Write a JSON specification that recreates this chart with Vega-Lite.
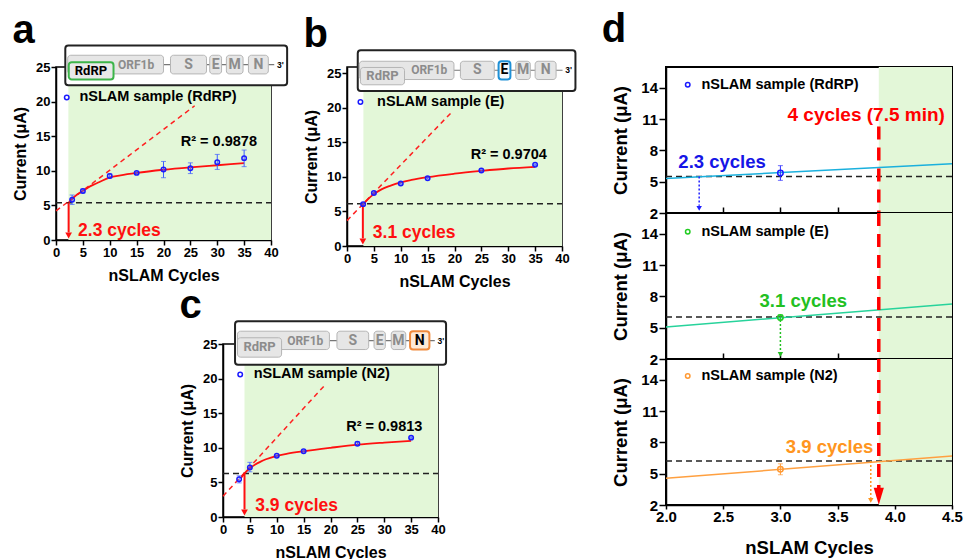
{
"$schema": "https://vega.github.io/schema/vega-lite/v6.json",
"autosize": {"type": "pad"},
"padding": {"left": 11, "top": 9, "right": 0, "bottom": 0},
"background": "white",
"datasets": {
"pts": [
{"p":"a","x":3,"y":5.82,"lo":5.14,"hi":6.5},{"p":"a","x":5,"y":7.07,"lo":6.8,"hi":7.35},{"p":"a","x":10,"y":9.25,"lo":8.95,"hi":9.55},{"p":"a","x":15,"y":9.7,"lo":9.55,"hi":9.85},{"p":"a","x":20,"y":10.18,"lo":9.0,"hi":11.35},{"p":"a","x":25,"y":10.38,"lo":9.6,"hi":11.15},{"p":"a","x":30,"y":11.25,"lo":10.2,"hi":12.37},{"p":"a","x":35,"y":11.83,"lo":10.6,"hi":13.0},
{"p":"b","x":3,"y":6.05,"lo":5.9,"hi":6.2},{"p":"b","x":5,"y":7.65,"lo":7.5,"hi":7.8},{"p":"b","x":10,"y":9.03,"lo":8.93,"hi":9.13},{"p":"b","x":15,"y":9.8,"lo":9.7,"hi":9.9},{"p":"b","x":25,"y":10.9,"lo":10.78,"hi":11.02},{"p":"b","x":35,"y":11.74,"lo":11.64,"hi":11.84},
{"p":"c","x":3,"y":5.47,"lo":4.93,"hi":5.95},{"p":"c","x":5,"y":7.17,"lo":6.53,"hi":7.9},{"p":"c","x":10,"y":8.86,"lo":8.76,"hi":8.96},{"p":"c","x":15,"y":9.49,"lo":9.39,"hi":9.59},{"p":"c","x":25,"y":10.6,"lo":10.35,"hi":10.85},{"p":"c","x":35,"y":11.47,"lo":11.37,"hi":11.57}
],
"fit": [
{"p":"a","x":2.4,"y":5.45},{"p":"a","x":3,"y":5.95},{"p":"a","x":4,"y":6.6},{"p":"a","x":5,"y":7.1},{"p":"a","x":6,"y":7.6},{"p":"a","x":7,"y":8.0},{"p":"a","x":8,"y":8.35},{"p":"a","x":10,"y":9.05},{"p":"a","x":12,"y":9.35},{"p":"a","x":15,"y":9.7},{"p":"a","x":20,"y":10.15},{"p":"a","x":25,"y":10.5},{"p":"a","x":30,"y":10.8},{"p":"a","x":35,"y":11.1},
{"p":"b","x":2.9,"y":5.9},{"p":"b","x":3,"y":6.0},{"p":"b","x":4,"y":6.85},{"p":"b","x":5,"y":7.5},{"p":"b","x":6,"y":8.0},{"p":"b","x":7,"y":8.4},{"p":"b","x":8,"y":8.7},{"p":"b","x":10,"y":9.2},{"p":"b","x":12,"y":9.55},{"p":"b","x":15,"y":9.95},{"p":"b","x":20,"y":10.45},{"p":"b","x":25,"y":10.85},{"p":"b","x":30,"y":11.2},{"p":"b","x":35,"y":11.45},
{"p":"c","x":3.3,"y":5.6},{"p":"c","x":4,"y":6.3},{"p":"c","x":5,"y":7.05},{"p":"c","x":6,"y":7.6},{"p":"c","x":7,"y":8.0},{"p":"c","x":8,"y":8.35},{"p":"c","x":10,"y":8.85},{"p":"c","x":12,"y":9.15},{"p":"c","x":15,"y":9.5},{"p":"c","x":20,"y":10.0},{"p":"c","x":25,"y":10.45},{"p":"c","x":30,"y":10.75},{"p":"c","x":35,"y":11.0}
],
"tangent": [{"p":"a","x":0,"y":4.2},{"p":"a","x":25.8,"y":19.4},{"p":"b","x":0,"y":3.67},{"p":"b","x":19.3,"y":19.2},{"p":"c","x":0,"y":3.0},{"p":"c","x":19,"y":19.1}],
"thresh": [{"p":"a","x":0,"x2":40,"y":5.39},{"p":"b","x":0,"x2":40,"y":6.09},{"p":"c","x":0,"x2":40,"y":6.3}],
"cut": [{"p":"a","x":2.35,"y":5.39,"y2":1.1},{"p":"b","x":2.95,"y":6.09,"y2":1.1},{"p":"c","x":4.0,"y":6.3,"y2":1.1}],
"cuthead": [{"p":"a","x":2.35,"y":0.65},{"p":"b","x":2.95,"y":0.65},{"p":"c","x":4.0,"y":0.65}],
"green": [{"p":"a","x":2.3,"x2":40,"y":0,"y2":25},{"p":"b","x":3.05,"x2":40,"y":0,"y2":25},{"p":"c","x":4.0,"x2":40,"y":0,"y2":25}],
"lab": [
{"p":"a","k":"cyc","x":4.1,"y":1.35,"t":"2.3 cycles"},{"p":"a","k":"r2","x":30.3,"y":14.2,"t":"R² = 0.9878"},
{"p":"b","k":"cyc","x":4.8,"y":1.83,"t":"3.1 cycles"},{"p":"b","k":"r2","x":30.1,"y":13.1,"t":"R² = 0.9704"},
{"p":"c","k":"cyc","x":6.0,"y":1.6,"t":"3.9 cycles"},{"p":"c","k":"r2","x":30.0,"y":13.06,"t":"R² = 0.9813"}
],
"leg": [{"p":"a","x":2.0,"tx":4.35,"y":20.6,"t":"nSLAM sample (RdRP)"},{"p":"b","x":2.5,"tx":5.6,"y":20.8,"t":"nSLAM sample (E)"},{"p":"c","x":3.2,"tx":5.7,"y":20.6,"t":"nSLAM sample (N2)"}],
"gbox": [{"p":"a","x":1.73,"x2":43.0,"y":22.36,"y2":28.1},{"p":"b","x":2.0,"x2":42.5,"y":22.4,"y2":28.3},{"p":"c","x":2.24,"x2":41.5,"y":22.0,"y2":28.3}],
"gline": [{"p":"a","x":20,"x2":40.6,"y":25.35},{"p":"b","x":19.9,"x2":40.1,"y":25.4},{"p":"c","x":19.8,"x2":39.4,"y":25.5}],
"g3": [{"p":"a","x":41.1,"y":25.35,"t":"3'"},{"p":"b","x":40.6,"y":25.4,"t":"3'"},{"p":"c","x":39.9,"y":25.5,"t":"3'"}],
"genes": [
{"p":"a","g":"ORF1b","x":2.18,"x2":20.0,"y":24.0,"y2":26.7,"cx":14.9,"cy":25.35,"hl":"n"},
{"p":"a","g":"RdRP","x":2.37,"x2":10.7,"y":23.2,"y2":25.7,"cx":6.5,"cy":24.45,"hl":"y"},
{"p":"a","g":"S","x":21.3,"x2":28.0,"y":24.0,"y2":26.7,"cx":24.65,"cy":25.35,"hl":"n"},
{"p":"a","g":"E","x":28.6,"x2":30.8,"y":24.0,"y2":26.7,"cx":29.7,"cy":25.35,"hl":"n"},
{"p":"a","g":"M","x":31.7,"x2":34.8,"y":24.0,"y2":26.7,"cx":33.25,"cy":25.35,"hl":"n"},
{"p":"a","g":"N","x":35.8,"x2":39.5,"y":24.0,"y2":26.7,"cx":37.65,"cy":25.35,"hl":"n"},
{"p":"b","g":"ORF1b","x":2.3,"x2":19.9,"y":24.06,"y2":26.7,"cx":15.3,"cy":25.4,"hl":"n"},
{"p":"b","g":"RdRP","x":2.5,"x2":10.7,"y":23.3,"y2":25.8,"cx":6.6,"cy":24.55,"hl":"n"},
{"p":"b","g":"S","x":21.1,"x2":27.4,"y":24.06,"y2":26.7,"cx":24.25,"cy":25.4,"hl":"n"},
{"p":"b","g":"E","x":28.2,"x2":30.4,"y":24.06,"y2":26.7,"cx":29.3,"cy":25.4,"hl":"y"},
{"p":"b","g":"M","x":31.4,"x2":34.1,"y":24.06,"y2":26.7,"cx":32.75,"cy":25.4,"hl":"n"},
{"p":"b","g":"N","x":35.0,"x2":38.9,"y":24.06,"y2":26.7,"cx":36.95,"cy":25.4,"hl":"n"},
{"p":"c","g":"ORF1b","x":2.7,"x2":19.8,"y":24.2,"y2":26.85,"cx":15.3,"cy":25.5,"hl":"n"},
{"p":"c","g":"RdRP","x":2.7,"x2":10.9,"y":23.1,"y2":25.9,"cx":6.8,"cy":24.5,"hl":"n"},
{"p":"c","g":"S","x":21.2,"x2":27.1,"y":24.2,"y2":26.85,"cx":24.15,"cy":25.5,"hl":"n"},
{"p":"c","g":"E","x":28.1,"x2":30.2,"y":24.2,"y2":26.85,"cx":29.15,"cy":25.5,"hl":"n"},
{"p":"c","g":"M","x":31.3,"x2":34.0,"y":24.2,"y2":26.85,"cx":32.65,"cy":25.5,"hl":"n"},
{"p":"c","g":"N","x":34.8,"x2":38.4,"y":24.2,"y2":26.85,"cx":36.6,"cy":25.5,"hl":"y"}
],
"dline": [{"s":"RdRP","x":2,"y":5.3},{"s":"RdRP","x":4.5,"y":6.73},{"s":"E","x":2,"y":5.07},{"s":"E","x":4.5,"y":7.27},{"s":"N2","x":2,"y":4.56},{"s":"N2","x":4.5,"y":6.69}],
"dpts": [{"s":"RdRP","x":3,"y":5.83,"lo":5.13,"hi":6.54},{"s":"E","x":3,"y":5.98,"lo":5.75,"hi":6.22},{"s":"N2","x":3,"y":5.42,"lo":4.9,"hi":5.95}],
"dth": [{"s":"RdRP","x":2,"x2":4.5,"y":5.5},{"s":"E","x":2,"x2":4.5,"y":6.02},{"s":"N2","x":2,"x2":4.5,"y":6.21}],
"darr": [{"s":"RdRP","x":2.29,"y":5.5,"y2":2.7},{"s":"E","x":3.0,"y":5.75,"y2":2.7},{"s":"N2","x":3.79,"y":6.21,"y2":2.7}],
"dhead": [{"s":"RdRP","x":2.29,"y":2.45},{"s":"E","x":3.0,"y":2.45},{"s":"N2","x":3.79,"y":2.45}],
"dred": [{"s":"RdRP","x":3.86,"y":10.3,"y2":2},{"s":"E","x":3.86,"y":16,"y2":2},{"s":"N2","x":3.86,"y":16,"y2":3.6}],
"dredhead": [{"s":"N2","x":3.86,"y":2.83}],
"dgreen": [{"s":"RdRP","x":3.86,"x2":4.5,"y":2,"y2":16},{"s":"E","x":3.86,"x2":4.5,"y":2,"y2":16},{"s":"N2","x":3.86,"x2":4.5,"y":2,"y2":16}],
"dlab": [{"s":"RdRP","k":"cyc","x":2.49,"y":6.9,"t":"2.3 cycles"},{"s":"RdRP","k":"big","x":3.75,"y":11.36,"t":"4 cycles (7.5 min)"},{"s":"E","k":"cyc","x":3.2,"y":7.58,"t":"3.1 cycles"},{"s":"N2","k":"cyc","x":3.43,"y":7.6,"t":"3.9 cycles"}],
"dleg": [{"s":"RdRP","x":2.19,"tx":2.31,"y":14.3,"t":"nSLAM sample (RdRP)"},{"s":"E","x":2.19,"tx":2.31,"y":14.2,"t":"nSLAM sample (E)"},{"s":"N2","x":2.19,"tx":2.31,"y":14.36,"t":"nSLAM sample (N2)"}]
},
"config": {
"font": "Liberation Sans",
"view": {"stroke": "black", "strokeWidth": 1.5},
"axis": {"grid": false, "domainColor": "black", "domainWidth": 1.5, "tickColor": "black", "tickWidth": 1.5, "labelColor": "black", "titleColor": "black", "labelFont": "Liberation Sans", "titleFont": "Liberation Sans", "labelFontWeight": "bold", "titleFontWeight": "bold", "zindex": 1, "labelFlush": false, "labelOverlap": false},
"title": {"font": "Liberation Sans", "fontWeight": "bold", "fontSize": 40, "anchor": "start", "frame": "bounds", "color": "black"},
"text": {"font": "Liberation Sans", "fontWeight": "bold"}
},
"hconcat": [
{"vconcat": [
 {"hconcat": [
  {"width": 215, "height": 173, "title": {"text": "a", "offset": -6},
   "encoding": {
    "x": {"field": "x", "type": "quantitative", "scale": {"domain": [0, 40], "nice": false}, "axis": {"title": "nSLAM Cycles", "values": [0,5,10,15,20,25,30,35,40], "labelFontSize": 13, "titleFontSize": 16, "tickSize": 5, "labelPadding": 1, "titlePadding": 8}},
    "y": {"field": "y", "type": "quantitative", "scale": {"domain": [0, 25], "nice": false}, "axis": {"title": "Current (μA)", "values": [0,5,10,15,20,25], "labelFontSize": 13, "titleFontSize": 16, "tickSize": 5, "labelPadding": 1, "titlePadding": 7}}
   },
   "layer": [
    {"data": {"name": "green"}, "transform": [{"filter": "datum.p=='a'"}], "mark": {"type": "rect", "color": "#e3f7d8"}, "encoding": {"x2": {"field": "x2"}, "y2": {"field": "y2"}}},
    {"data": {"name": "thresh"}, "transform": [{"filter": "datum.p=='a'"}], "mark": {"type": "rule", "color": "#222222", "strokeWidth": 1.5, "strokeDash": [6,4]}, "encoding": {"x2": {"field": "x2"}}},
    {"data": {"name": "tangent"}, "transform": [{"filter": "datum.p=='a'"}], "mark": {"type": "line", "color": "#ff2020", "strokeWidth": 1.5, "strokeDash": [5,4]}},
    {"data": {"name": "fit"}, "transform": [{"filter": "datum.p=='a'"}], "mark": {"type": "line", "color": "#ff1010", "strokeWidth": 1.8, "interpolate": "monotone"}},
    {"data": {"name": "cut"}, "transform": [{"filter": "datum.p=='a'"}], "mark": {"type": "rule", "color": "#ff1010", "strokeWidth": 2}, "encoding": {"y2": {"field": "y2"}}},
    {"data": {"name": "cuthead"}, "transform": [{"filter": "datum.p=='a'"}], "mark": {"type": "point", "shape": "triangle-down", "filled": true, "size": 45, "color": "#ff1010", "opacity": 1}},
    {"data": {"name": "pts"}, "transform": [{"filter": "datum.p=='a'"}], "mark": {"type": "errorbar", "ticks": true, "color": "#3d5cff"}, "encoding": {"y": {"field": "lo", "type": "quantitative"}, "y2": {"field": "hi"}}},
    {"data": {"name": "pts"}, "transform": [{"filter": "datum.p=='a'"}], "mark": {"type": "point", "filled": false, "size": 20, "strokeWidth": 1.5, "color": "#1a1aff", "opacity": 1}},
    {"data": {"name": "lab"}, "transform": [{"filter": "datum.p=='a' && datum.k=='cyc'"}], "mark": {"type": "text", "align": "left", "baseline": "middle", "fontSize": 17.5, "color": "#ff1010"}, "encoding": {"text": {"field": "t"}}},
    {"data": {"name": "lab"}, "transform": [{"filter": "datum.p=='a' && datum.k=='r2'"}], "mark": {"type": "text", "align": "center", "baseline": "middle", "fontSize": 14.5, "color": "black"}, "encoding": {"text": {"field": "t"}}},
    {"data": {"name": "leg"}, "transform": [{"filter": "datum.p=='a'"}], "mark": {"type": "point", "filled": false, "size": 20, "strokeWidth": 1.5, "color": "#1a1aff", "opacity": 1}},
    {"data": {"name": "leg"}, "transform": [{"filter": "datum.p=='a'"}], "mark": {"type": "text", "align": "left", "baseline": "middle", "fontSize": 14.5, "color": "black"}, "encoding": {"x": {"field": "tx", "type": "quantitative"}, "text": {"field": "t"}}},
    {"data": {"name": "gbox"}, "transform": [{"filter": "datum.p=='a'"}], "mark": {"type": "rect", "fill": "white", "stroke": "#222222", "strokeWidth": 2, "cornerRadius": 3}, "encoding": {"x2": {"field": "x2"}, "y2": {"field": "y2"}}},
    {"data": {"name": "gline"}, "transform": [{"filter": "datum.p=='a'"}], "mark": {"type": "rule", "color": "#777777", "strokeWidth": 1.2}, "encoding": {"x2": {"field": "x2"}}},
    {"data": {"name": "genes"}, "transform": [{"filter": "datum.p=='a'"}], "mark": {"type": "rect", "cornerRadius": 3}, "encoding": {"x2": {"field": "x2"}, "y2": {"field": "y2"}, "fill": {"condition": {"test": "datum.hl=='y'", "value": "#e9e9e9"}, "value": "#e6e6e6"}, "stroke": {"condition": {"test": "datum.hl=='y'", "value": "#3db54a"}, "value": "#b5b5b5"}, "strokeWidth": {"condition": {"test": "datum.hl=='y'", "value": 2}, "value": 1}}},
    {"data": {"name": "genes"}, "transform": [{"filter": "datum.p=='a' && datum.g=='ORF1b'"}], "mark": {"type": "text", "font": "Roboto", "fontWeight": "bold", "fontSize": 12, "align": "center", "baseline": "middle"}, "encoding": {"x": {"field": "cx", "type": "quantitative"}, "y": {"field": "cy", "type": "quantitative"}, "text": {"field": "g"}, "color": {"condition": {"test": "datum.hl=='y'", "value": "black"}, "value": "#8c8c8c"}}},
    {"data": {"name": "genes"}, "transform": [{"filter": "datum.p=='a' && datum.g=='RdRP'"}], "mark": {"type": "text", "font": "Roboto", "fontWeight": "bold", "fontSize": 13, "align": "center", "baseline": "middle"}, "encoding": {"x": {"field": "cx", "type": "quantitative"}, "y": {"field": "cy", "type": "quantitative"}, "text": {"field": "g"}, "color": {"condition": {"test": "datum.hl=='y'", "value": "black"}, "value": "#8c8c8c"}}},
    {"data": {"name": "genes"}, "transform": [{"filter": "datum.p=='a' && datum.g!='RdRP' && datum.g!='ORF1b'"}], "mark": {"type": "text", "font": "Roboto", "fontWeight": "bold", "fontSize": 14, "align": "center", "baseline": "middle"}, "encoding": {"x": {"field": "cx", "type": "quantitative"}, "y": {"field": "cy", "type": "quantitative"}, "text": {"field": "g"}, "color": {"condition": {"test": "datum.hl=='y'", "value": "black"}, "value": "#8c8c8c"}}},
    {"data": {"name": "g3"}, "transform": [{"filter": "datum.p=='a'"}], "mark": {"type": "text", "fontSize": 8.5, "align": "left", "baseline": "middle", "color": "black"}, "encoding": {"text": {"field": "t"}}}
   ]
  },
  {"width": 215, "height": 179, "title": {"text": "b", "offset": -6},
   "encoding": {
    "x": {"field": "x", "type": "quantitative", "scale": {"domain": [0, 40], "nice": false}, "axis": {"title": "nSLAM Cycles", "values": [0,5,10,15,20,25,30,35,40], "labelFontSize": 13, "titleFontSize": 16, "tickSize": 5, "labelPadding": 1, "titlePadding": 8}},
    "y": {"field": "y", "type": "quantitative", "scale": {"domain": [0, 25.87], "nice": false}, "axis": {"title": "Current (μA)", "values": [0,5,10,15,20,25], "labelFontSize": 13, "titleFontSize": 16, "tickSize": 5, "labelPadding": 1, "titlePadding": 7}}
   },
   "layer": [
    {"data": {"name": "green"}, "transform": [{"filter": "datum.p=='b'"}], "mark": {"type": "rect", "color": "#e3f7d8"}, "encoding": {"x2": {"field": "x2"}, "y2": {"field": "y2"}}},
    {"data": {"name": "thresh"}, "transform": [{"filter": "datum.p=='b'"}], "mark": {"type": "rule", "color": "#222222", "strokeWidth": 1.5, "strokeDash": [6,4]}, "encoding": {"x2": {"field": "x2"}}},
    {"data": {"name": "tangent"}, "transform": [{"filter": "datum.p=='b'"}], "mark": {"type": "line", "color": "#ff2020", "strokeWidth": 1.5, "strokeDash": [5,4]}},
    {"data": {"name": "fit"}, "transform": [{"filter": "datum.p=='b'"}], "mark": {"type": "line", "color": "#ff1010", "strokeWidth": 1.8, "interpolate": "monotone"}},
    {"data": {"name": "cut"}, "transform": [{"filter": "datum.p=='b'"}], "mark": {"type": "rule", "color": "#ff1010", "strokeWidth": 2}, "encoding": {"y2": {"field": "y2"}}},
    {"data": {"name": "cuthead"}, "transform": [{"filter": "datum.p=='b'"}], "mark": {"type": "point", "shape": "triangle-down", "filled": true, "size": 45, "color": "#ff1010", "opacity": 1}},
    {"data": {"name": "pts"}, "transform": [{"filter": "datum.p=='b'"}], "mark": {"type": "errorbar", "ticks": true, "color": "#3d5cff"}, "encoding": {"y": {"field": "lo", "type": "quantitative"}, "y2": {"field": "hi"}}},
    {"data": {"name": "pts"}, "transform": [{"filter": "datum.p=='b'"}], "mark": {"type": "point", "filled": false, "size": 20, "strokeWidth": 1.5, "color": "#1a1aff", "opacity": 1}},
    {"data": {"name": "lab"}, "transform": [{"filter": "datum.p=='b' && datum.k=='cyc'"}], "mark": {"type": "text", "align": "left", "baseline": "middle", "fontSize": 17.5, "color": "#ff1010"}, "encoding": {"text": {"field": "t"}}},
    {"data": {"name": "lab"}, "transform": [{"filter": "datum.p=='b' && datum.k=='r2'"}], "mark": {"type": "text", "align": "center", "baseline": "middle", "fontSize": 14.5, "color": "black"}, "encoding": {"text": {"field": "t"}}},
    {"data": {"name": "leg"}, "transform": [{"filter": "datum.p=='b'"}], "mark": {"type": "point", "filled": false, "size": 20, "strokeWidth": 1.5, "color": "#1a1aff", "opacity": 1}},
    {"data": {"name": "leg"}, "transform": [{"filter": "datum.p=='b'"}], "mark": {"type": "text", "align": "left", "baseline": "middle", "fontSize": 14.5, "color": "black"}, "encoding": {"x": {"field": "tx", "type": "quantitative"}, "text": {"field": "t"}}},
    {"data": {"name": "gbox"}, "transform": [{"filter": "datum.p=='b'"}], "mark": {"type": "rect", "fill": "white", "stroke": "#222222", "strokeWidth": 2, "cornerRadius": 3}, "encoding": {"x2": {"field": "x2"}, "y2": {"field": "y2"}}},
    {"data": {"name": "gline"}, "transform": [{"filter": "datum.p=='b'"}], "mark": {"type": "rule", "color": "#777777", "strokeWidth": 1.2}, "encoding": {"x2": {"field": "x2"}}},
    {"data": {"name": "genes"}, "transform": [{"filter": "datum.p=='b'"}], "mark": {"type": "rect", "cornerRadius": 3}, "encoding": {"x2": {"field": "x2"}, "y2": {"field": "y2"}, "fill": {"condition": {"test": "datum.hl=='y'", "value": "#f4f8fb"}, "value": "#e6e6e6"}, "stroke": {"condition": {"test": "datum.hl=='y'", "value": "#1e90d6"}, "value": "#b5b5b5"}, "strokeWidth": {"condition": {"test": "datum.hl=='y'", "value": 2}, "value": 1}}},
    {"data": {"name": "genes"}, "transform": [{"filter": "datum.p=='b' && datum.g=='ORF1b'"}], "mark": {"type": "text", "font": "Roboto", "fontWeight": "bold", "fontSize": 12, "align": "center", "baseline": "middle"}, "encoding": {"x": {"field": "cx", "type": "quantitative"}, "y": {"field": "cy", "type": "quantitative"}, "text": {"field": "g"}, "color": {"condition": {"test": "datum.hl=='y'", "value": "black"}, "value": "#8c8c8c"}}},
    {"data": {"name": "genes"}, "transform": [{"filter": "datum.p=='b' && datum.g=='RdRP'"}], "mark": {"type": "text", "font": "Roboto", "fontWeight": "bold", "fontSize": 13, "align": "center", "baseline": "middle"}, "encoding": {"x": {"field": "cx", "type": "quantitative"}, "y": {"field": "cy", "type": "quantitative"}, "text": {"field": "g"}, "color": {"condition": {"test": "datum.hl=='y'", "value": "black"}, "value": "#8c8c8c"}}},
    {"data": {"name": "genes"}, "transform": [{"filter": "datum.p=='b' && datum.g!='RdRP' && datum.g!='ORF1b'"}], "mark": {"type": "text", "font": "Roboto", "fontWeight": "bold", "fontSize": 14, "align": "center", "baseline": "middle"}, "encoding": {"x": {"field": "cx", "type": "quantitative"}, "y": {"field": "cy", "type": "quantitative"}, "text": {"field": "g"}, "color": {"condition": {"test": "datum.hl=='y'", "value": "black"}, "value": "#8c8c8c"}}},
    {"data": {"name": "g3"}, "transform": [{"filter": "datum.p=='b'"}], "mark": {"type": "text", "fontSize": 8.5, "align": "left", "baseline": "middle", "color": "black"}, "encoding": {"text": {"field": "t"}}}
   ]
  }
 ], "spacing": 76, "bounds": "flush"},
 {"hconcat": [
  {"width": 1, "height": 1, "data": {"values": []}, "mark": "point", "view": {"stroke": null}},
  {"width": 215, "height": 173, "title": {"text": "c", "offset": -6},
   "encoding": {
    "x": {"field": "x", "type": "quantitative", "scale": {"domain": [0, 40], "nice": false}, "axis": {"title": "nSLAM Cycles", "values": [0,5,10,15,20,25,30,35,40], "labelFontSize": 13, "titleFontSize": 16, "tickSize": 5, "labelPadding": 1, "titlePadding": 8}},
    "y": {"field": "y", "type": "quantitative", "scale": {"domain": [0, 25], "nice": false}, "axis": {"title": "Current (μA)", "values": [0,5,10,15,20,25], "labelFontSize": 13, "titleFontSize": 16, "tickSize": 5, "labelPadding": 1, "titlePadding": 7}}
   },
   "layer": [
    {"data": {"name": "green"}, "transform": [{"filter": "datum.p=='c'"}], "mark": {"type": "rect", "color": "#e3f7d8"}, "encoding": {"x2": {"field": "x2"}, "y2": {"field": "y2"}}},
    {"data": {"name": "thresh"}, "transform": [{"filter": "datum.p=='c'"}], "mark": {"type": "rule", "color": "#222222", "strokeWidth": 1.5, "strokeDash": [6,4]}, "encoding": {"x2": {"field": "x2"}}},
    {"data": {"name": "tangent"}, "transform": [{"filter": "datum.p=='c'"}], "mark": {"type": "line", "color": "#ff2020", "strokeWidth": 1.5, "strokeDash": [5,4]}},
    {"data": {"name": "fit"}, "transform": [{"filter": "datum.p=='c'"}], "mark": {"type": "line", "color": "#ff1010", "strokeWidth": 1.8, "interpolate": "monotone"}},
    {"data": {"name": "cut"}, "transform": [{"filter": "datum.p=='c'"}], "mark": {"type": "rule", "color": "#ff1010", "strokeWidth": 2}, "encoding": {"y2": {"field": "y2"}}},
    {"data": {"name": "cuthead"}, "transform": [{"filter": "datum.p=='c'"}], "mark": {"type": "point", "shape": "triangle-down", "filled": true, "size": 45, "color": "#ff1010", "opacity": 1}},
    {"data": {"name": "pts"}, "transform": [{"filter": "datum.p=='c'"}], "mark": {"type": "errorbar", "ticks": true, "color": "#3d5cff"}, "encoding": {"y": {"field": "lo", "type": "quantitative"}, "y2": {"field": "hi"}}},
    {"data": {"name": "pts"}, "transform": [{"filter": "datum.p=='c'"}], "mark": {"type": "point", "filled": false, "size": 20, "strokeWidth": 1.5, "color": "#1a1aff", "opacity": 1}},
    {"data": {"name": "lab"}, "transform": [{"filter": "datum.p=='c' && datum.k=='cyc'"}], "mark": {"type": "text", "align": "left", "baseline": "middle", "fontSize": 17.5, "color": "#ff1010"}, "encoding": {"text": {"field": "t"}}},
    {"data": {"name": "lab"}, "transform": [{"filter": "datum.p=='c' && datum.k=='r2'"}], "mark": {"type": "text", "align": "center", "baseline": "middle", "fontSize": 14.5, "color": "black"}, "encoding": {"text": {"field": "t"}}},
    {"data": {"name": "leg"}, "transform": [{"filter": "datum.p=='c'"}], "mark": {"type": "point", "filled": false, "size": 20, "strokeWidth": 1.5, "color": "#1a1aff", "opacity": 1}},
    {"data": {"name": "leg"}, "transform": [{"filter": "datum.p=='c'"}], "mark": {"type": "text", "align": "left", "baseline": "middle", "fontSize": 14.5, "color": "black"}, "encoding": {"x": {"field": "tx", "type": "quantitative"}, "text": {"field": "t"}}},
    {"data": {"name": "gbox"}, "transform": [{"filter": "datum.p=='c'"}], "mark": {"type": "rect", "fill": "white", "stroke": "#222222", "strokeWidth": 2, "cornerRadius": 3}, "encoding": {"x2": {"field": "x2"}, "y2": {"field": "y2"}}},
    {"data": {"name": "gline"}, "transform": [{"filter": "datum.p=='c'"}], "mark": {"type": "rule", "color": "#777777", "strokeWidth": 1.2}, "encoding": {"x2": {"field": "x2"}}},
    {"data": {"name": "genes"}, "transform": [{"filter": "datum.p=='c'"}], "mark": {"type": "rect", "cornerRadius": 3}, "encoding": {"x2": {"field": "x2"}, "y2": {"field": "y2"}, "fill": {"condition": {"test": "datum.hl=='y'", "value": "#fde9d6"}, "value": "#e6e6e6"}, "stroke": {"condition": {"test": "datum.hl=='y'", "value": "#f08a3c"}, "value": "#b5b5b5"}, "strokeWidth": {"condition": {"test": "datum.hl=='y'", "value": 2}, "value": 1}}},
    {"data": {"name": "genes"}, "transform": [{"filter": "datum.p=='c' && datum.g=='ORF1b'"}], "mark": {"type": "text", "font": "Roboto", "fontWeight": "bold", "fontSize": 12, "align": "center", "baseline": "middle"}, "encoding": {"x": {"field": "cx", "type": "quantitative"}, "y": {"field": "cy", "type": "quantitative"}, "text": {"field": "g"}, "color": {"condition": {"test": "datum.hl=='y'", "value": "black"}, "value": "#8c8c8c"}}},
    {"data": {"name": "genes"}, "transform": [{"filter": "datum.p=='c' && datum.g=='RdRP'"}], "mark": {"type": "text", "font": "Roboto", "fontWeight": "bold", "fontSize": 13, "align": "center", "baseline": "middle"}, "encoding": {"x": {"field": "cx", "type": "quantitative"}, "y": {"field": "cy", "type": "quantitative"}, "text": {"field": "g"}, "color": {"condition": {"test": "datum.hl=='y'", "value": "black"}, "value": "#8c8c8c"}}},
    {"data": {"name": "genes"}, "transform": [{"filter": "datum.p=='c' && datum.g!='RdRP' && datum.g!='ORF1b'"}], "mark": {"type": "text", "font": "Roboto", "fontWeight": "bold", "fontSize": 14, "align": "center", "baseline": "middle"}, "encoding": {"x": {"field": "cx", "type": "quantitative"}, "y": {"field": "cy", "type": "quantitative"}, "text": {"field": "g"}, "color": {"condition": {"test": "datum.hl=='y'", "value": "black"}, "value": "#8c8c8c"}}},
    {"data": {"name": "g3"}, "transform": [{"filter": "datum.p=='c'"}], "mark": {"type": "text", "fontSize": 8.5, "align": "left", "baseline": "middle", "color": "black"}, "encoding": {"text": {"field": "t"}}}
   ]
  }
 ], "spacing": 166, "bounds": "flush"}
], "spacing": -5, "bounds": "full"},
{"vconcat": [
 {"width": 286, "height": 146, "view": {"stroke": "black", "strokeWidth": 2}, "title": {"text": "d", "offset": 17, "dx": -10},
  "encoding": {
   "x": {"field": "x", "type": "quantitative", "scale": {"domain": [2, 4.5], "nice": false, "zero": false}, "axis": {"labels": false, "title": null, "tickSize": -6, "values": [2.5,3,3.5,4], "domain": false}},
   "y": {"field": "y", "type": "quantitative", "scale": {"domain": [2, 16], "nice": false, "zero": false}, "axis": {"title": "Current (μA)", "values": [2,5,8,11,14], "labelFontSize": 15, "titleFontSize": 18.5, "tickSize": 7, "labelPadding": 1.5, "titlePadding": 10}}
  },
  "layer": [
   {"data": {"name": "dgreen"}, "transform": [{"filter": "datum.s=='RdRP'"}], "mark": {"type": "rect", "color": "#e3f7d8"}, "encoding": {"x2": {"field": "x2"}, "y2": {"field": "y2"}}},
   {"data": {"name": "dth"}, "transform": [{"filter": "datum.s=='RdRP'"}], "mark": {"type": "rule", "color": "#222222", "strokeWidth": 1.5, "strokeDash": [6,4]}, "encoding": {"x2": {"field": "x2"}}},
   {"data": {"name": "dline"}, "transform": [{"filter": "datum.s=='RdRP'"}], "mark": {"type": "line", "color": "#1ab0dd", "strokeWidth": 1.5}},
   {"data": {"name": "darr"}, "transform": [{"filter": "datum.s=='RdRP'"}], "mark": {"type": "rule", "color": "#2020ff", "strokeWidth": 1.5, "strokeDash": [2,2]}, "encoding": {"y2": {"field": "y2"}}},
   {"data": {"name": "dhead"}, "transform": [{"filter": "datum.s=='RdRP'"}], "mark": {"type": "point", "shape": "triangle-down", "filled": true, "size": 30, "color": "#2020ff", "opacity": 1}},
   {"data": {"name": "dpts"}, "transform": [{"filter": "datum.s=='RdRP'"}], "mark": {"type": "errorbar", "ticks": true, "color": "#3030ff"}, "encoding": {"y": {"field": "lo", "type": "quantitative"}, "y2": {"field": "hi"}}},
   {"data": {"name": "dpts"}, "transform": [{"filter": "datum.s=='RdRP'"}], "mark": {"type": "point", "filled": false, "size": 30, "strokeWidth": 1.5, "color": "#1a1aff", "opacity": 1}},
   {"data": {"name": "dred"}, "transform": [{"filter": "datum.s=='RdRP'"}], "mark": {"type": "rule", "color": "#ff0000", "strokeWidth": 3.5, "strokeDash": [13,8]}, "encoding": {"y2": {"field": "y2"}}},
   {"data": {"name": "dlab"}, "transform": [{"filter": "datum.s=='RdRP' && datum.k=='cyc'"}], "mark": {"type": "text", "align": "center", "baseline": "middle", "fontSize": 18.5, "color": "#1515e6"}, "encoding": {"text": {"field": "t"}}},
   {"data": {"name": "dlab"}, "transform": [{"filter": "datum.s=='RdRP' && datum.k=='big'"}], "mark": {"type": "text", "align": "center", "baseline": "middle", "fontSize": 19, "color": "#ff0000"}, "encoding": {"text": {"field": "t"}}},
   {"data": {"name": "dleg"}, "transform": [{"filter": "datum.s=='RdRP'"}], "mark": {"type": "point", "filled": false, "size": 20, "strokeWidth": 1.5, "color": "#1a1aff", "opacity": 1}},
   {"data": {"name": "dleg"}, "transform": [{"filter": "datum.s=='RdRP'"}], "mark": {"type": "text", "align": "left", "baseline": "middle", "fontSize": 14.5, "color": "black"}, "encoding": {"x": {"field": "tx", "type": "quantitative"}, "text": {"field": "t"}}}
  ]
 },
 {"width": 286, "height": 146, "view": {"stroke": "black", "strokeWidth": 2},
  "encoding": {
   "x": {"field": "x", "type": "quantitative", "scale": {"domain": [2, 4.5], "nice": false, "zero": false}, "axis": {"labels": false, "title": null, "tickSize": -6, "values": [2.5,3,3.5,4], "domain": false}},
   "y": {"field": "y", "type": "quantitative", "scale": {"domain": [2, 16], "nice": false, "zero": false}, "axis": {"title": "Current (μA)", "values": [2,5,8,11,14], "labelFontSize": 15, "titleFontSize": 18.5, "tickSize": 7, "labelPadding": 1.5, "titlePadding": 10}}
  },
  "layer": [
   {"data": {"name": "dgreen"}, "transform": [{"filter": "datum.s=='E'"}], "mark": {"type": "rect", "color": "#e3f7d8"}, "encoding": {"x2": {"field": "x2"}, "y2": {"field": "y2"}}},
   {"data": {"name": "dth"}, "transform": [{"filter": "datum.s=='E'"}], "mark": {"type": "rule", "color": "#222222", "strokeWidth": 1.5, "strokeDash": [6,4]}, "encoding": {"x2": {"field": "x2"}}},
   {"data": {"name": "dline"}, "transform": [{"filter": "datum.s=='E'"}], "mark": {"type": "line", "color": "#27d39b", "strokeWidth": 1.5}},
   {"data": {"name": "darr"}, "transform": [{"filter": "datum.s=='E'"}], "mark": {"type": "rule", "color": "#22c022", "strokeWidth": 1.5, "strokeDash": [2,2]}, "encoding": {"y2": {"field": "y2"}}},
   {"data": {"name": "dhead"}, "transform": [{"filter": "datum.s=='E'"}], "mark": {"type": "point", "shape": "triangle-down", "filled": true, "size": 30, "color": "#22c022", "opacity": 1}},
   {"data": {"name": "dpts"}, "transform": [{"filter": "datum.s=='E'"}], "mark": {"type": "errorbar", "ticks": true, "color": "#22c022"}, "encoding": {"y": {"field": "lo", "type": "quantitative"}, "y2": {"field": "hi"}}},
   {"data": {"name": "dpts"}, "transform": [{"filter": "datum.s=='E'"}], "mark": {"type": "point", "filled": false, "size": 30, "strokeWidth": 1.5, "color": "#22cc22", "opacity": 1}},
   {"data": {"name": "dred"}, "transform": [{"filter": "datum.s=='E'"}], "mark": {"type": "rule", "color": "#ff0000", "strokeWidth": 3.5, "strokeDash": [13,8]}, "encoding": {"y2": {"field": "y2"}}},
   {"data": {"name": "dlab"}, "transform": [{"filter": "datum.s=='E' && datum.k=='cyc'"}], "mark": {"type": "text", "align": "center", "baseline": "middle", "fontSize": 18.5, "color": "#22c022"}, "encoding": {"text": {"field": "t"}}},
   {"data": {"name": "dleg"}, "transform": [{"filter": "datum.s=='E'"}], "mark": {"type": "point", "filled": false, "size": 20, "strokeWidth": 1.5, "color": "#22cc22", "opacity": 1}},
   {"data": {"name": "dleg"}, "transform": [{"filter": "datum.s=='E'"}], "mark": {"type": "text", "align": "left", "baseline": "middle", "fontSize": 14.5, "color": "black"}, "encoding": {"x": {"field": "tx", "type": "quantitative"}, "text": {"field": "t"}}}
  ]
 },
 {"width": 286, "height": 146, "view": {"stroke": "black", "strokeWidth": 2},
  "encoding": {
   "x": {"field": "x", "type": "quantitative", "scale": {"domain": [2, 4.5], "nice": false, "zero": false}, "axis": {"title": "nSLAM Cycles", "values": [2,2.5,3,3.5,4,4.5], "format": ".1f", "labelFontSize": 15, "titleFontSize": 18.5, "tickSize": 4, "labelPadding": 0, "titlePadding": 14}},
   "y": {"field": "y", "type": "quantitative", "scale": {"domain": [2, 16], "nice": false, "zero": false}, "axis": {"title": "Current (μA)", "values": [2,5,8,11,14], "labelFontSize": 15, "titleFontSize": 18.5, "tickSize": 7, "labelPadding": 1.5, "titlePadding": 10}}
  },
  "layer": [
   {"data": {"name": "dgreen"}, "transform": [{"filter": "datum.s=='N2'"}], "mark": {"type": "rect", "color": "#e3f7d8"}, "encoding": {"x2": {"field": "x2"}, "y2": {"field": "y2"}}},
   {"data": {"name": "dth"}, "transform": [{"filter": "datum.s=='N2'"}], "mark": {"type": "rule", "color": "#222222", "strokeWidth": 1.5, "strokeDash": [6,4]}, "encoding": {"x2": {"field": "x2"}}},
   {"data": {"name": "dline"}, "transform": [{"filter": "datum.s=='N2'"}], "mark": {"type": "line", "color": "#ffa040", "strokeWidth": 1.5}},
   {"data": {"name": "darr"}, "transform": [{"filter": "datum.s=='N2'"}], "mark": {"type": "rule", "color": "#ff9520", "strokeWidth": 1.5, "strokeDash": [2,2]}, "encoding": {"y2": {"field": "y2"}}},
   {"data": {"name": "dhead"}, "transform": [{"filter": "datum.s=='N2'"}], "mark": {"type": "point", "shape": "triangle-down", "filled": true, "size": 30, "color": "#ff9520", "opacity": 1}},
   {"data": {"name": "dpts"}, "transform": [{"filter": "datum.s=='N2'"}], "mark": {"type": "errorbar", "ticks": true, "color": "#ff9933"}, "encoding": {"y": {"field": "lo", "type": "quantitative"}, "y2": {"field": "hi"}}},
   {"data": {"name": "dpts"}, "transform": [{"filter": "datum.s=='N2'"}], "mark": {"type": "point", "filled": false, "size": 30, "strokeWidth": 1.5, "color": "#ff9933", "opacity": 1}},
   {"data": {"name": "dred"}, "transform": [{"filter": "datum.s=='N2'"}], "mark": {"type": "rule", "color": "#ff0000", "strokeWidth": 3.5, "strokeDash": [13,8]}, "encoding": {"y2": {"field": "y2"}}},
   {"data": {"name": "dredhead"}, "mark": {"type": "point", "shape": "M-0.6,-1L0.6,-1L0,1Z", "filled": true, "size": 289, "color": "#ff0000", "opacity": 1}},
   {"data": {"name": "dlab"}, "transform": [{"filter": "datum.s=='N2' && datum.k=='cyc'"}], "mark": {"type": "text", "align": "center", "baseline": "middle", "fontSize": 18.5, "color": "#ff9520"}, "encoding": {"text": {"field": "t"}}},
   {"data": {"name": "dleg"}, "transform": [{"filter": "datum.s=='N2'"}], "mark": {"type": "point", "filled": false, "size": 20, "strokeWidth": 1.5, "color": "#ff9933", "opacity": 1}},
   {"data": {"name": "dleg"}, "transform": [{"filter": "datum.s=='N2'"}], "mark": {"type": "text", "align": "left", "baseline": "middle", "fontSize": 14.5, "color": "black"}, "encoding": {"x": {"field": "tx", "type": "quantitative"}, "text": {"field": "t"}}}
  ]
 }
], "spacing": 0, "bounds": "flush"}
],
"spacing": 22,
"bounds": "full"
}
